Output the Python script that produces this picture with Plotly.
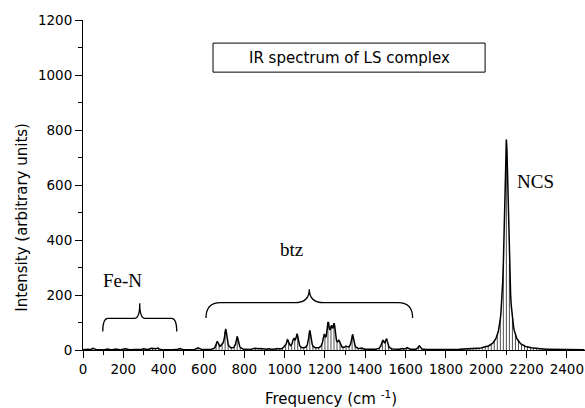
import numpy as np
import plotly.graph_objects as go

# ---- data ----
peak_freq = [20, 50, 120, 160, 210, 250, 300, 340, 370, 480, 570,
             666, 690, 708, 765, 850, 880, 920, 960, 1000, 1015, 1045, 1062,
             1125, 1196, 1216, 1232, 1246, 1270, 1305, 1337, 1380,
             1486, 1505, 1580, 1608, 1668, 2100]
peak_int = [4, 6, 4, 5, 5, 4, 5, 6, 7, 6, 7,
            28, 10, 74, 48, 5, 4, 4, 5, 6, 33, 34, 52,
            68, 44, 84, 58, 78, 24, 8, 56, 5,
            32, 38, 5, 7, 14, 765]
peak_fwhm = [14] * 37 + [25]
curve_step = 3
drop_step = 15

x_ticks_major = 200
x_ticks_minor = 100

# braces: (x_start, x_end, y_tip, y_flat, y_point)
braces = [(98, 465, 67, 115, 170), (610, 1635, 116, 172, 221)]
labels = [("Fe-N", 198, 251), ("btz", 1034, 367), ("NCS", 2245, 611)]
title_text = "IR spectrum of LS complex"


def spectrum(x):
    y = np.zeros_like(x)
    for f, a, w in zip(peak_freq, peak_int, peak_fwhm):
        g = (w / 2) ** 2
        y += a * g / ((x - f) ** 2 + g)
    return y


xs = np.arange(0, 2490, curve_step, dtype=float)
ys = spectrum(xs)

xd = np.arange(0, 2490, drop_step, dtype=float)
yd = spectrum(xd)
drop_x, drop_y = [], []
for xv, yv in zip(xd, yd):
    if yv > 2:
        drop_x += [xv, xv, None]
        drop_y += [0, yv, None]

fig = go.Figure()
fig.add_trace(go.Scatter(x=drop_x, y=drop_y, mode="lines",
                         line=dict(color="black", width=0.7),
                         hoverinfo="skip", showlegend=False))
fig.add_trace(go.Scatter(x=xs, y=ys, mode="lines",
                         line=dict(color="black", width=1.5),
                         showlegend=False))

shapes = []
for x0, x1, yt, yf, yp in braces:
    xm = (x0 + x1) / 2
    d = (x1 - x0) * 0.07
    dm = (x1 - x0) * 0.07
    path = (f"M {x0},{yt} Q {x0},{yf} {x0 + d},{yf} L {xm - dm},{yf} "
            f"Q {xm},{yf} {xm},{yp} Q {xm},{yf} {xm + dm},{yf} "
            f"L {x1 - d},{yf} Q {x1},{yf} {x1},{yt}")
    shapes.append(dict(type="path", path=path, xref="x", yref="y",
                       line=dict(color="black", width=1.3)))

shapes.append(dict(type="rect", xref="paper", yref="paper",
                   x0=0.259, x1=0.801, y0=0.842, y1=0.930,
                   line=dict(color="black", width=1), fillcolor="white"))

annotations = [dict(text=title_text, x=0.530, y=0.886, xref="paper", yref="paper",
                    showarrow=False, xanchor="center", yanchor="middle",
                    font=dict(family="DejaVu Sans", size=15, color="black"))]
for t, lx, ly in labels:
    annotations.append(dict(text=t, x=lx, y=ly, xref="x", yref="y", showarrow=False,
                            xanchor="center", yanchor="middle",
                            font=dict(family="Liberation Serif", size=19, color="black")))
annotations.append(dict(text="Intensity (arbitrary units)", x=-0.122, y=0.403,
                        xref="paper", yref="paper", showarrow=False, textangle=-90,
                        xanchor="center", yanchor="middle",
                        font=dict(family="DejaVu Sans", size=15, color="black")))
annotations.append(dict(text="Frequency (cm <sup>-1</sup>)", x=0.494, y=-0.146,
                        xref="paper", yref="paper", showarrow=False,
                        xanchor="center", yanchor="middle",
                        font=dict(family="DejaVu Sans", size=15, color="black")))

fig.update_layout(
    width=585, height=408,
    margin=dict(l=83, r=0, t=20, b=58),
    paper_bgcolor="white", plot_bgcolor="white",
    shapes=shapes, annotations=annotations,
    font=dict(family="DejaVu Sans", size=13.5, color="black"),
    xaxis=dict(range=[0, 2490], tickmode="linear", tick0=0, dtick=x_ticks_major,
               ticks="outside", ticklen=7, tickwidth=1, tickcolor="black",
               showline=True, linecolor="black", linewidth=1, showgrid=False,
               zeroline=False,
               minor=dict(dtick=x_ticks_minor, ticks="outside", ticklen=4,
                          tickcolor="black", tickwidth=1, showgrid=False)),
    yaxis=dict(range=[0, 1200], tickmode="linear", tick0=0, dtick=200,
               ticks="outside", ticklen=7, tickwidth=1, tickcolor="black",
               showline=True, linecolor="black", linewidth=1, showgrid=False,
               zeroline=False,
               minor=dict(dtick=100, ticks="outside", ticklen=4,
                          tickcolor="black", tickwidth=1, showgrid=False)),
)

fig.write_html("out.html")
